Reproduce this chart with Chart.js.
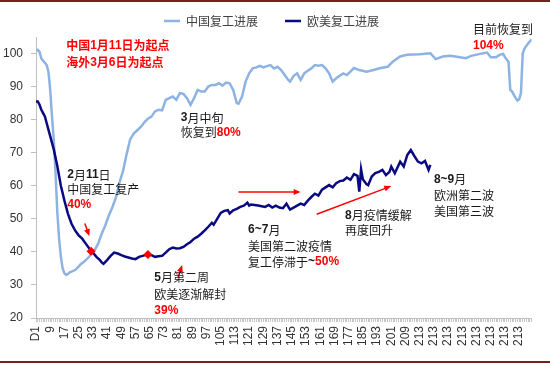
<!DOCTYPE html>
<html>
<head>
<meta charset="utf-8">
<script src="https://cdn.jsdelivr.net/npm/chart.js@4.4.0/dist/chart.umd.min.js"></script>
<style>
  body { margin: 0; background: #fff; }
  #wrap { position: relative; width: 550px; height: 365px; }
  #wrap::before, #wrap::after { content: ''; position: absolute; left: 0; right: 0; height: 2px; background: #7b1e1e; }
  #wrap::before { top: 0; }
  #wrap::after { top: 361px; }
  canvas { display: block; }
</style>
</head>
<body>
<div id="wrap"><canvas id="chart" width="550" height="365"></canvas></div>
<script>
// x positions are day indices (0 = D1); the source axis repeats "213" after day 213
const totalDays = 280;
const dayLabel = i => i === 0 ? 'D1' : String(Math.min(i + 1, 213));

const chinaDay = [0, 1, 2, 3, 4, 5, 6, 7, 8, 9,
  10, 11, 12, 13, 14, 15, 16, 17, 18, 19,
  20, 22, 24, 25, 27, 29, 31, 33, 35, 37,
  39, 41, 43, 45, 47, 49, 51, 53, 55, 57,
  59, 61, 63, 65, 67, 69, 71, 73, 75, 77,
  79, 81, 83, 85, 87, 89, 91, 93, 95, 97,
  99, 101, 103, 105, 107, 109, 111, 113, 114, 116,
  118, 120, 122, 124, 126, 128, 130, 132, 134, 136,
  138, 140, 142, 143, 145, 147, 149, 151, 153, 155,
  157, 159, 161, 163, 165, 167, 169, 171, 173, 175,
  177, 179, 182, 186, 190, 194, 198, 201, 205, 209,
  216, 222, 225, 229, 233, 236, 242, 245, 250, 254,
  256, 259, 261, 263, 264, 266, 267, 268, 270, 271,
  272, 273, 274, 275, 277, 279];
const chinaVal = [100.8, 101.1, 100.5, 98.5, 97.8, 97.2, 96.5, 94.5, 89, 81,
  74, 64, 52, 44, 38.5, 35, 33.5, 33, 33.3, 33.8,
  34, 34.5, 35.5, 36.2, 37, 38, 39.2, 40.5, 42.5, 45.5,
  48, 51, 53.5, 56.5, 61, 64.5, 69.5, 74, 75.8, 76.8,
  77.8, 79.2, 80.3, 80.9, 82.5, 83, 82.8, 86, 86.5, 87,
  86, 88, 87.8, 86.5, 84.5, 86.5, 89, 88.5, 88.5, 90,
  90.5, 90.5, 91, 90.3, 91.2, 91, 89, 85, 84.8, 87,
  91.5, 94, 95.5, 95.8, 96.3, 95.8, 96.2, 96.5, 95.5, 96,
  95, 93.5, 92, 91.5, 93.2, 94, 92, 94, 94.8, 95.5,
  96.5, 96.3, 96.5, 95.5, 94, 91.5, 92.5, 93.3, 94, 93.5,
  94.5, 95.6, 95, 94.5, 95, 95.6, 96, 97.6, 99.1, 99.6,
  99.8, 100.1, 98.3, 99.1, 99.3, 99.1, 98.6, 99.3, 99.9, 100.3,
  98.9, 98.9, 99.6, 99.9, 98.9, 97.5, 89, 88.5, 86.5, 85.8,
  86.2, 88, 100, 101.5, 103, 104.3];

const euroDay = [0, 1, 2, 3, 4, 5, 6, 7, 8, 10,
  12, 14, 16, 18, 20, 22, 24, 26, 28, 30,
  32, 34, 36, 37, 38, 40, 42, 44, 46, 48,
  50, 52, 54, 56, 58, 60, 63, 65, 67, 69,
  71, 73, 75, 77, 79, 81, 83, 85, 87, 89,
  91, 93, 95, 97, 99, 100, 102, 104, 106, 108,
  109, 111, 113, 115, 117, 119, 120, 121, 123, 125,
  127, 129, 131, 133, 135, 137, 139, 141, 143, 145,
  147, 149, 151, 153, 155, 157, 159, 161, 163, 165,
  167, 169, 171, 173, 175, 177, 179, 181, 182, 183,
  184, 186, 187, 189, 191, 193, 195, 197, 199, 200,
  202, 205, 207, 209, 211, 213, 215, 217, 219, 221,
  222];
const euroVal = [85.5, 85.5, 84.5, 83, 82, 81, 79, 77, 75, 71,
  66, 60, 55.5, 51.5, 48.5, 46.5, 45, 44, 42.5, 41,
  39.8, 38.5, 37.5, 36.8, 36.4, 37.5, 38.8, 39.8, 39.5, 39,
  38.6, 38.3, 38, 37.8, 38.5, 38.8, 39.3, 39, 38.5, 38.7,
  38.8, 39.8, 40.8, 41.3, 41, 41.1, 41.5, 42.3, 43, 44,
  44.6, 45.5, 46.5, 47.6, 48.8, 48.2, 50, 51.8, 52.4, 52.6,
  51.6, 52.6, 53, 53.6, 54, 54.9, 54, 54.3, 54.2, 54,
  53.8, 53.6, 54.2, 53.4, 54, 53.4, 53.2, 54.6, 52.8, 53.4,
  54, 54.6, 54.2, 55.5, 56.6, 57.6, 57, 58.8, 59.5, 60.2,
  59.5, 60.8, 61.4, 61.6, 62.5, 61.8, 63.5, 63, 58.2, 65,
  62, 60.5, 60.2, 62.8, 63.8, 64.2, 64.8, 63.2, 64.2, 65.8,
  63.8, 67.3, 65.8, 69.3, 70.8, 69, 67.3, 66.8, 67.5, 64.8,
  66.3];

// red diamonds
const markDay = [31, 63];
const markVal = [40.2, 39.2];

const RED = '#ff0000';

// annotation text, placed in data coordinates (day, value)
const notes = [
  { day: 17, val: 102.4, text: '', red: '中国1月11日为起点' },
  { day: 17, val: 97.3, text: '', red: '海外3月6日为起点' },
  { day: 81.5, val: 80.5, text: '3月中旬' },
  { day: 81.5, val: 76, text: '恢复到', red: '80%' },
  { day: 17.6, val: 63.2, text: '2月11日' },
  { day: 17.6, val: 59, text: '中国复工复产' },
  { day: 17.6, val: 54.3, text: '', red: '40%' },
  { day: 66.6, val: 32.2, text: '5月第二周' },
  { day: 66.6, val: 27.2, text: '欧美逐渐解封' },
  { day: 66.6, val: 22.3, text: '', red: '39%' },
  { day: 119.4, val: 46.6, text: '6~7月' },
  { day: 119.4, val: 41.5, text: '美国第二波疫情' },
  { day: 119.4, val: 36.9, text: '复工停滞于~', red: '50%' },
  { day: 174, val: 50.9, text: '8月疫情缓解' },
  { day: 174, val: 46.4, text: '再度回升' },
  { day: 224, val: 61.9, text: '8~9月' },
  { day: 224, val: 57, text: '欧洲第二波' },
  { day: 224, val: 52.3, text: '美国第三波' },
  { day: 246, val: 107.2, text: '目前恢复到' },
  { day: 246, val: 102.5, text: '', red: '104%' }
];

const arrows = [
  { from: [27.5, 48.6], to: [30, 44.8] },
  { from: [80, 32.3], to: [82.3, 36] },
  { from: [114, 58.1], to: [149, 58.1] },
  { from: [158, 51.4], to: [200, 59.9] }
];

function drawRuns(ctx, x, y, str, color, strong) {
  const runs = str.match(/[\x00-\x7f]+|[^\x00-\x7f]+/g) || [];
  ctx.fillStyle = color;
  runs.forEach(r => {
    const ascii = /^[\x00-\x7f]/.test(r);
    ctx.font = ascii ? 'bold 12px "Liberation Sans", Arial, sans-serif'
      : (strong ? 'bold ' : '') + '12px "Noto Sans CJK SC", sans-serif';
    ctx.fillText(r, x, y);
    x += ctx.measureText(r).width;
  });
  return x;
}

const notesPlugin = {
  id: 'notes',
  afterDatasetsDraw(chart) {
    const { ctx, scales: { x, y } } = chart;
    ctx.save();
    ctx.strokeStyle = RED;
    ctx.fillStyle = RED;
    ctx.lineWidth = 1.5;
    arrows.forEach(a => {
      const x1 = x.getPixelForValue(a.from[0]), y1 = y.getPixelForValue(a.from[1]);
      const x2 = x.getPixelForValue(a.to[0]), y2 = y.getPixelForValue(a.to[1]);
      const ang = Math.atan2(y2 - y1, x2 - x1);
      const c = Math.cos(ang), s = Math.sin(ang);
      ctx.beginPath();
      ctx.moveTo(x1, y1);
      ctx.lineTo(x2 - 5 * c, y2 - 5 * s);
      ctx.stroke();
      ctx.beginPath();
      ctx.moveTo(x2, y2);
      ctx.lineTo(x2 - 7 * c + 3 * s, y2 - 7 * s - 3 * c);
      ctx.lineTo(x2 - 7 * c - 3 * s, y2 - 7 * s + 3 * c);
      ctx.closePath();
      ctx.fill();
    });
    ctx.textBaseline = 'middle';
    ctx.textAlign = 'left';
    notes.forEach(n => {
      const py = y.getPixelForValue(n.val);
      let px = x.getPixelForValue(n.day);
      px = drawRuns(ctx, px, py, n.text, '#1a1a1a', false);
      if (n.red) drawRuns(ctx, px, py, n.red, RED, true);
    });
    ctx.restore();
  }
};

const toPoints = (days, vals) => days.map((d, i) => ({ x: d, y: vals[i] }));
const tickFont = { size: 12, family: '"Liberation Sans", Arial, sans-serif' };

new Chart(document.getElementById('chart'), {
  type: 'line',
  data: {
    datasets: [{
      label: '中国复工进展',
      data: toPoints(chinaDay, chinaVal),
      borderColor: '#8db3e2',
      backgroundColor: '#8db3e2',
      borderWidth: 2.5,
      pointRadius: 0,
      order: 2
    }, {
      label: '欧美复工进展',
      data: toPoints(euroDay, euroVal),
      borderColor: '#0a0a80',
      backgroundColor: '#0a0a80',
      borderWidth: 2.5,
      pointRadius: 0,
      order: 1
    }, {
      label: 'marks',
      data: toPoints(markDay, markVal),
      showLine: false,
      pointStyle: 'rectRot',
      pointRadius: 4.5,
      borderWidth: 0,
      backgroundColor: RED,
      borderColor: RED,
      order: 0
    }]
  },
  options: {
    responsive: false,
    animation: false,
    // legend padding is wide for the item gap, so pull the legend up
    layout: { padding: { top: -12, right: 7, left: 0, bottom: 0 } },
    plugins: {
      tooltip: { enabled: false },
      legend: {
        position: 'top',
        labels: {
          usePointStyle: true,
          pointStyle: 'line',
          pointStyleWidth: 16,
          padding: 27,
          color: '#404040',
          font: { size: 12, family: '"Noto Sans CJK SC", sans-serif' },
          filter: item => item.datasetIndex < 2,
          sort: (a, b) => a.datasetIndex - b.datasetIndex
        }
      }
    },
    scales: {
      x: {
        type: 'linear',
        min: 0,
        max: totalDays - 1,
        afterFit: s => { s.height = 47; },
        border: { color: '#bfbfbf' },
        grid: { drawOnChartArea: false, color: '#c8c8c8', tickLength: 4 },
        ticks: {
          stepSize: 1,
          autoSkip: false,
          minRotation: 90,
          maxRotation: 90,
          padding: 4,
          color: '#333',
          font: tickFont,
          callback: v => v % 8 === 0 ? dayLabel(v) : ''
        }
      },
      y: {
        min: 20,
        max: 105,
        afterFit: s => { s.width = 36; },
        border: { color: '#bfbfbf' },
        grid: { drawOnChartArea: false, color: '#bfbfbf', tickLength: 5 },
        ticks: {
          stepSize: 10,
          includeBounds: false,
          padding: 8,
          color: '#333',
          font: tickFont
        }
      }
    }
  },
  plugins: [notesPlugin]
});
</script>
</body>
</html>
